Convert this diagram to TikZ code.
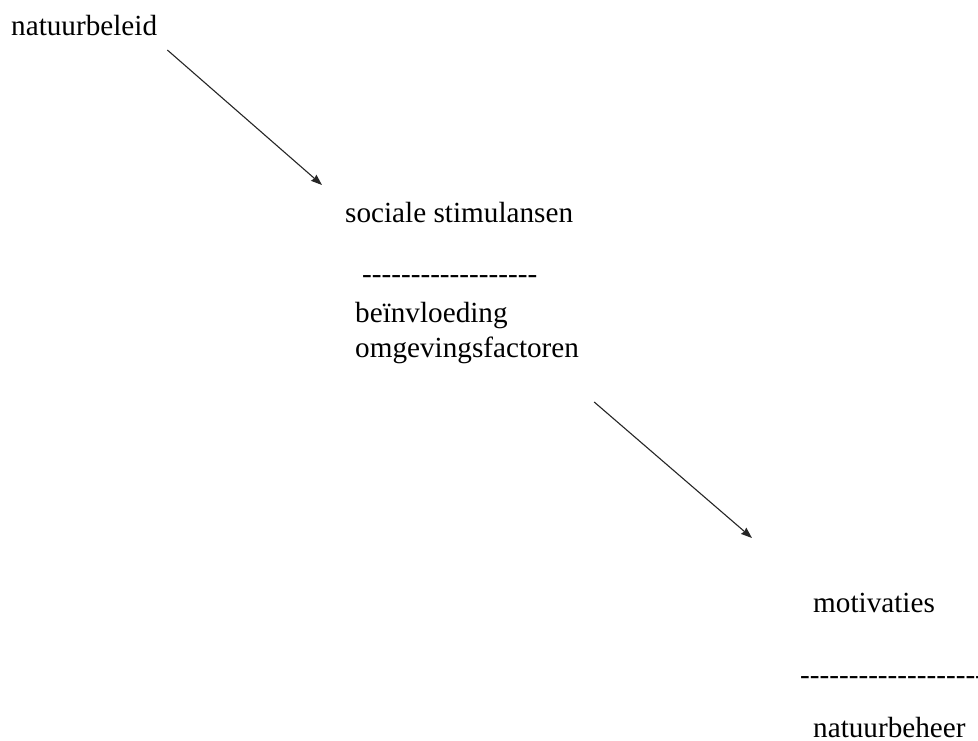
\documentclass[tikz,border=0pt]{standalone}
\usepackage{fontspec}
\setmainfont{Liberation Serif}
\newfontfamily\plainserif{Liberation Serif}
\usetikzlibrary{arrows.meta}
\begin{document}
\begin{tikzpicture}[x=1pt,y=-1pt,
  lbl/.style={anchor=base west,inner sep=0pt,font=\fontsize{29.2}{35}\selectfont},
  sep/.style={anchor=base west,inner sep=0pt,font=\plainserif\fontsize{29.2}{35}\selectfont},
  conn/.style={draw=black!85,line width=1.1pt,-{Stealth[length=11pt,width=8pt,inset=1pt]}}]
\useasboundingbox[fill=white] (0,0) rectangle (978,740);
\node[lbl] (nb) at (11,35) {natuurbeleid};
\node[lbl] (ss) at (345,222) {sociale stimulansen};
\node[sep] (d1) at (362,283) {------------------};
\node[lbl,align=left] (bo) at (355,357) {beïnvloeding\\omgevingsfactoren};
\node[lbl] (mo) at (813,612) {motivaties};
\node[sep] (d2) at (800,684) {--------------------};
\node[lbl] (nh) at (813,737) {natuurbeheer};
\draw[conn] ([shift={(10pt,-15pt)}]nb.base east) -- ([shift={(-23pt,37pt)}]ss.base west);
\draw[conn] ([shift={(15pt,-45pt)}]bo.base east) -- ([shift={(-61pt,74pt)}]mo.base west);
\end{tikzpicture}
\end{document}
